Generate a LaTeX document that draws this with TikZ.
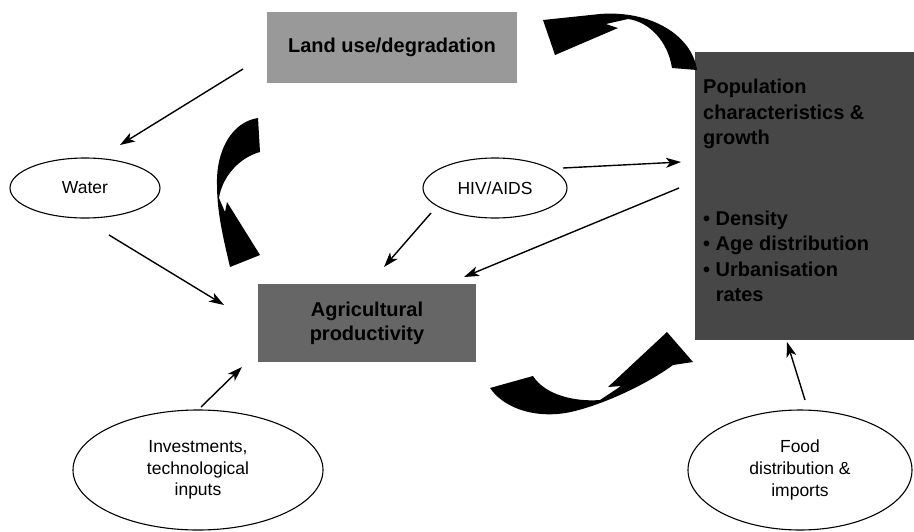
\documentclass[tikz,border=0pt]{standalone}
\usepackage{fontspec}
\setmainfont{Liberation Sans}
\usetikzlibrary{arrows.meta,calc,shapes.geometric}

\tikzset{
  greybox/.style={rectangle, inner sep=0pt, font=\bfseries\fontsize{20}{24}\selectfont, align=center},
  oval/.style={ellipse, draw=black, line width=1.1pt, inner sep=0pt, font=\fontsize{17.5}{21.7}\selectfont, align=center},
  conn/.style={line width=1.4pt, -{Stealth[length=15pt,width=10pt,inset=4pt]}},
  bigarrow/.style={fill=black, draw=none}
}

\begin{document}
\begin{tikzpicture}[x=1pt,y=-1pt]
\useasboundingbox (0,0) rectangle (914,531);

% shaded boxes
\node[greybox, fill=black!40, minimum width=250pt, minimum height=71pt] (land) at (392,47.5) {Land use/degradation};
\node[greybox, fill=black!60, minimum width=218pt, minimum height=78pt] (agri) at (367,323) {Agricultural\\productivity};
\node[greybox, fill=black!72, minimum width=219pt, minimum height=288pt] (pop) at (804.5,196) {};
\node[anchor=north west, inner sep=0pt, align=left, font=\bfseries\fontsize{20}{25.5}\selectfont] (poptext) at (703,79)
  {Population\\characteristics \&\\growth\\[55pt]
   \textbullet\ Density\\
   \textbullet\ Age distribution\\
   \textbullet\ Urbanisation\\
   \phantom{\textbullet\ }rates};

% ovals
\node[oval, minimum width=150pt, minimum height=60pt] (water) at (85,188) {Water};
\node[oval, minimum width=144pt, minimum height=60pt] (hiv) at (495,188) {HIV/AIDS};
\node[oval, minimum width=250pt, minimum height=120pt] (inv) at (198,470) {Investments,\\technological\\inputs};
\node[oval, minimum width=224pt, minimum height=120pt] (food) at (800,470) {Food\\distribution \&\\imports};

% straight connectors
\draw[conn] ($(land.center)+(-149,21.5)$) -- ($(water.center)+(35,-43)$);
\draw[conn] ($(water.center)+(24,47)$) -- ($(agri.center)+(-143,-18)$);
\draw[conn] ($(hiv.center)+(-64,25)$) -- ($(agri.center)+(17,-56)$);
\draw[conn] ($(hiv.center)+(68,-20)$) -- ($(pop.center)+(-123.5,-34)$);
\draw[conn] ($(pop.center)+(-125.5,-8)$) -- ($(agri.center)+(97,-46)$);
\draw[conn] ($(inv.center)+(3,-63)$) -- ($(agri.center)+(-125,44)$);
\draw[conn] ($(food.center)+(5,-70)$) -- ($(pop.center)+(-17.5,146)$);

% curved block arrows of the cycle
% population -> land use
\fill[bigarrow] (543,20) -- (600,14) .. controls (650,10) and (692,35) .. (697,70)
  -- (672,68) .. controls (668,42) and (650,22) .. (628,19)
  -- (606,24) -- (618,28) -- (555,55) -- cycle;
% land use -> agricultural productivity
\fill[bigarrow] (258,118) .. controls (232,122) and (216,150) .. (217,185)
  .. controls (217,215) and (225,245) .. (230,267)
  -- (260,255) -- (227,202) -- (225,212) -- (219,198)
  .. controls (222,178) and (238,158) .. (260,152) -- cycle;
% agricultural productivity -> population
\fill[bigarrow] (490,388) .. controls (505,410) and (540,420) .. (575,411)
  .. controls (610,402) and (650,382) .. (673,365) -- (693,362)
  -- (667,332) -- (608,387) -- (621,386) -- (600,400)
  .. controls (575,402) and (545,395) .. (533,376) -- cycle;

\end{tikzpicture}
\end{document}
